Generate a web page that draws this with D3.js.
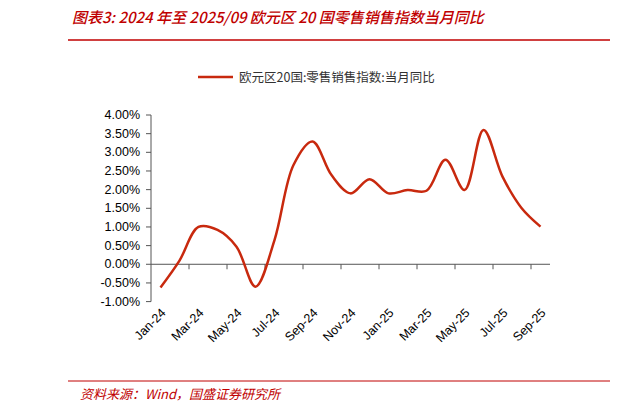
<!DOCTYPE html><html><head><meta charset="utf-8"><script src="https://d3js.org/d3.v7.min.js"></script>
<style>body{margin:0;background:#fff}svg{display:block}</style></head><body><svg id="c" width="622" height="414"></svg>
<script>
const categories=["Jan-24","Feb-24","Mar-24","Apr-24","May-24","Jun-24","Jul-24","Aug-24","Sep-24","Oct-24","Nov-24","Dec-24","Jan-25","Feb-25","Mar-25","Apr-25","May-25","Jun-25","Jul-25","Aug-25","Sep-25"];
const values=[-0.62,0.1,1.0,0.92,0.47,-0.6,0.65,2.66,3.29,2.39,1.9,2.28,1.9,1.99,1.97,2.8,1.99,3.6,2.35,1.51,1.01];
const yTicks=[-1,-0.5,0,0.5,1,1.5,2,2.5,3,3.5,4];
const title="图表3:  2024 年至 2025/09 欧元区 20 国零售销售指数当月同比";
const legendLabel="欧元区20国:零售销售指数:当月同比";
const source="资料来源：Wind，国盛证券研究所";
const red="#C00000", lineC="#C8290E";
const svg=d3.select("#c");
const F="'Noto Sans CJK SC','DejaVu Sans',sans-serif";
svg.append("text").attr("x",72).attr("y",23).attr("fill",red).attr("font-family",F).attr("font-size",15).attr("font-style","italic").attr("font-weight","500").text(title);
svg.append("line").attr("x1",68).attr("x2",610).attr("y1",40).attr("y2",40).attr("stroke",red).attr("stroke-width",1.5);
svg.append("line").attr("x1",68).attr("x2",610).attr("y1",381).attr("y2",381).attr("stroke",red).attr("stroke-width",1);
svg.append("text").attr("x",80).attr("y",399).attr("fill",red).attr("font-family",F).attr("font-size",13).attr("font-style","italic").text(source);
const x=d3.scaleBand().domain(categories).range([151,550]);
const y=d3.scaleLinear().domain([-1,4]).range([301.6,115]);
svg.append("line").attr("x1",151).attr("x2",151).attr("y1",y(4)).attr("y2",y(-1)).attr("stroke","#555");
yTicks.forEach(t=>{svg.append("line").attr("x1",146).attr("x2",151).attr("y1",y(t)).attr("y2",y(t)).attr("stroke","#555");
svg.append("text").attr("x",140).attr("y",y(t)+4).attr("text-anchor","end").attr("font-family","'Liberation Sans',Arial,sans-serif").attr("font-size",12.5).text(t.toFixed(2)+"%");});
svg.append("line").attr("x1",151).attr("x2",550).attr("y1",y(0)).attr("y2",y(0)).attr("stroke","#555");
categories.forEach((c,i)=>{if(i%2===0&&i>0){const xx=x(c);svg.append("line").attr("x1",xx).attr("x2",xx).attr("y1",y(0)).attr("y2",y(0)+5).attr("stroke","#555");}
if(i%2===0){const cx=x(c)+x.bandwidth()/2;svg.append("text").attr("transform",`translate(${cx+6},${y(-1)+12}) rotate(-45)`).attr("text-anchor","end").attr("font-family","'Liberation Sans',Arial,sans-serif").attr("font-size",12.5).text(c);}});
const line=d3.line().x((d,i)=>x(categories[i])+x.bandwidth()/2).y(d=>y(d)).curve(d3.curveCatmullRom.alpha(0.5));
svg.append("path").datum(values).attr("d",line).attr("fill","none").attr("stroke",lineC).attr("stroke-width",2.5);
svg.append("line").attr("x1",198).attr("x2",233).attr("y1",77).attr("y2",77).attr("stroke",lineC).attr("stroke-width",2.5);
svg.append("text").attr("x",239).attr("y",82).attr("font-family",F).attr("font-size",12.5).attr("fill","#333").text(legendLabel);
</script></body></html>
